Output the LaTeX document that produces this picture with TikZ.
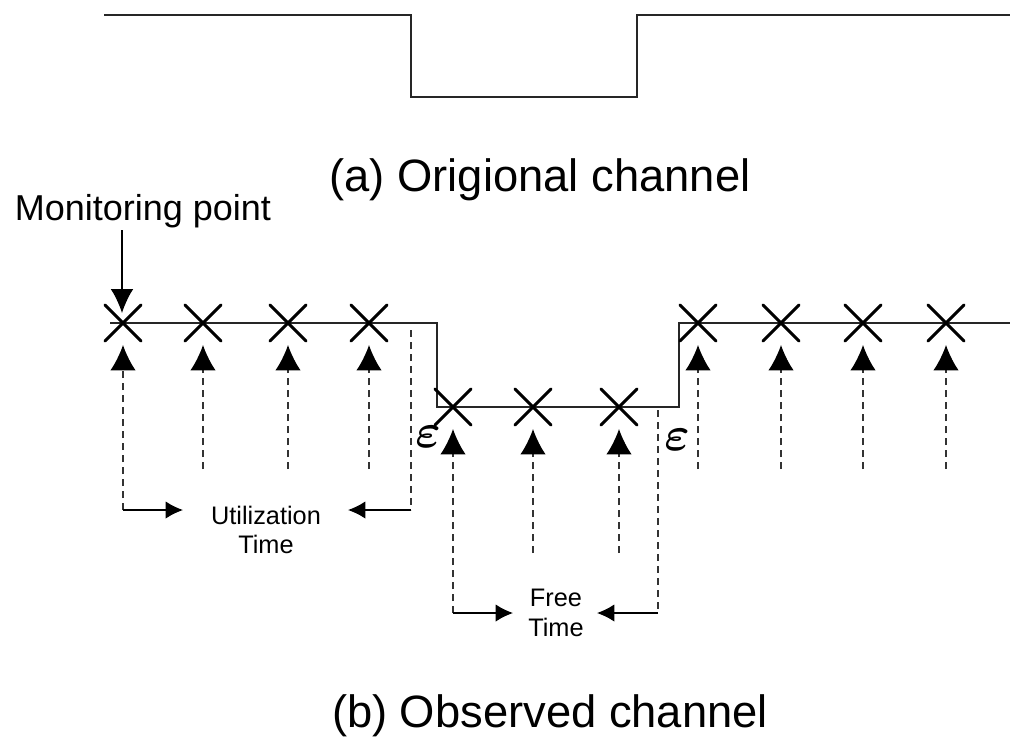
\documentclass[tikz,border=0pt]{standalone}
\usepackage{fontspec}
\setmainfont{Liberation Sans}
\usetikzlibrary{arrows.meta,shapes.misc,calc}
\begin{document}
\begin{tikzpicture}[x=0.75pt,y=-0.75pt,
  sig/.style={line width=1.1pt,black!85},
  xmark/.style={cross out,draw,line width=2.2pt,line cap=round,minimum size=25pt,inner sep=0pt},
  probe/.style={dashed,dash pattern=on 5pt off 4pt,line width=1pt,black!80,-{Latex[length=19pt,width=19pt,color=black]}},
  dline/.style={dashed,dash pattern=on 5pt off 4pt,line width=1pt,black!80},
  harrow/.style={line width=1pt,-{Latex[length=13pt,width=13pt]}},
  eps/.style={inner sep=0pt}]
\useasboundingbox (0,0) rectangle (1024,754);
% original channel
\coordinate (o1) at (104,15);
\coordinate (o2) at (411,15);
\coordinate (o3) at (411,97);
\coordinate (o4) at (637,97);
\coordinate (o5) at (637,15);
\coordinate (o6) at (1010,15);
\draw[sig] (o1) -- (o2) -- (o3) -- (o4) -- (o5) -- (o6);
\node[font=\fontsize{34}{40}\selectfont] (ta) at (540,180) {(a) Origional channel};
% observed channel
\coordinate (b1) at (110,323);
\coordinate (b2) at (437,323);
\coordinate (b3) at (437,407);
\coordinate (b4) at (679,407);
\coordinate (b5) at (679,323);
\coordinate (b6) at (1010,323);
\draw[sig] (b1) -- (b2) -- (b3) -- (b4) -- (b5) -- (b6);
% crosses
\foreach \i/\x/\y in {1/123/323,2/203/323,3/288/323,4/369/323,5/453/407,6/533/407,7/619/407,8/698/323,9/781/323,10/863/323,11/946/323}{
  \node[xmark] (x\i) at (\x,\y) {};
  \coordinate (t\i) at (\x,\y+22);
}
% probe arrows
\foreach \i in {2,3,4,6,7,8,9,10,11}{
  \coordinate (s\i) at ($(t\i)+(0,124)$);
}
\coordinate (s1) at (123,510);
\coordinate (s5) at (453,613);
\foreach \i in {1,...,11}{
  \draw[probe] (s\i) -- (t\i);
}
% monitoring point
\node[font=\fontsize{27}{32}\selectfont] (mp) at (143,211) {Monitoring point};
\coordinate (mpa) at (122,230);
\coordinate (mpb) at (122,313);
\draw[line width=1pt,-{Latex[length=18pt,width=17pt]}] (mpa) -- (mpb);
% utilization time
\coordinate (u1) at (411,330);
\coordinate (u2) at (411,510);
\coordinate (ua) at (183,510);
\coordinate (ub) at (348,510);
\draw[harrow] (s1) -- (ua);
\draw[dline] (u1) -- (u2);
\draw[harrow] (u2) -- (ub);
\node[font=\fontsize{19}{22}\selectfont,align=center] (ut) at (266,530) {Utilization\\Time};
% free time
\coordinate (f1) at (658,410);
\coordinate (f2) at (658,613);
\coordinate (fa) at (513,613);
\coordinate (fb) at (597,613);
\draw[harrow] (s5) -- (fa);
\draw[dline] (f1) -- (f2);
\draw[harrow] (f2) -- (fb);
\node[font=\fontsize{19}{22}\selectfont,align=center] (ft) at (556,613) {Free\\Time};
% epsilons
\node[eps] (e1) at (428,437) {\scalebox{3.6}{\boldmath$\varepsilon$}};
\node[eps] (e2) at (677,440) {\scalebox{3.6}{\boldmath$\varepsilon$}};
\node[font=\fontsize{34}{40}\selectfont] (tb) at (550,716) {(b) Observed channel};
\end{tikzpicture}
\end{document}
